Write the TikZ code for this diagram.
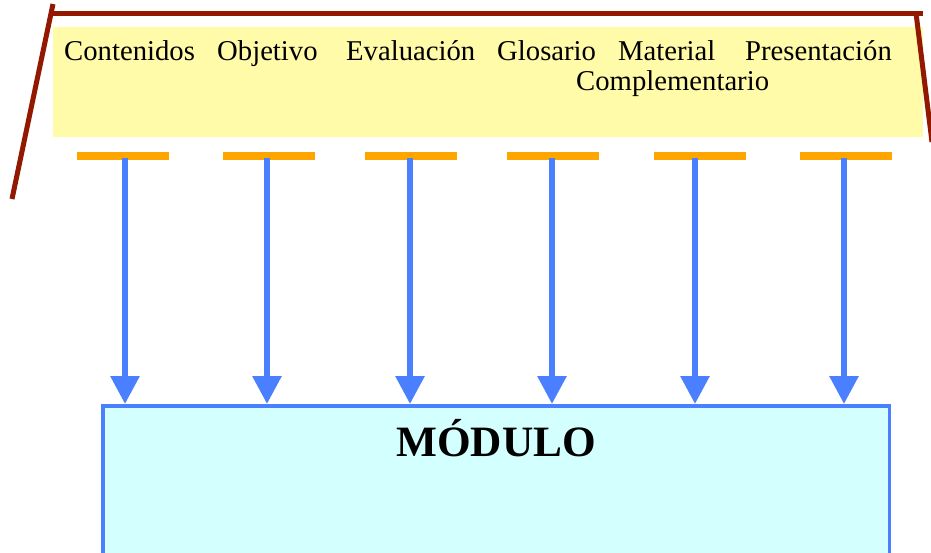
\documentclass[tikz,border=0pt]{standalone}
\usepackage{fontspec}
\setmainfont{Liberation Serif}
\usetikzlibrary{arrows.meta}
\definecolor{paneyellow}{HTML}{FFFBA8}
\definecolor{frame}{HTML}{921800}
\definecolor{barorange}{HTML}{FFA500}
\definecolor{arrowblue}{HTML}{4A80FF}
\definecolor{boxcyan}{HTML}{D4FFFF}
\tikzset{
  lbl/.style={anchor=base west, inner sep=0pt, font=\fontsize{28.7}{32}\selectfont},
  bar/.style={fill=barorange, draw=none, minimum width=92pt, minimum height=8pt, inner sep=0pt},
  flow/.style={draw=arrowblue, line width=6pt, -{Triangle[width=28pt,length=28pt]}, shorten >=0pt},
  edge/.style={draw=frame, line width=5pt}
}
\begin{document}
\begin{tikzpicture}[x=1pt,y=1pt]
\useasboundingbox (0,0) rectangle (931,-552);
\clip (0,0) rectangle (931,-552);
% yellow panel
\fill[paneyellow] (53,-27) rectangle (923,-137);
% frame
\coordinate (fl) at (12,-199);
\coordinate (ftl) at (53,-4);
\coordinate (ft) at (53,-13);
\coordinate (ftr) at (923,-13);
\coordinate (frt) at (916,-13);
\coordinate (fr) at (932,-142);
\draw[edge] (fl) -- (ftl);
\draw[edge] (ft) -- (ftr);
\draw[edge] (frt) -- (fr);
% labels
\node[lbl] (t1) at (64,-60) {Contenidos};
\node[lbl] (t2) at (217,-60) {Objetivo};
\node[lbl] (t3) at (346,-60) {Evaluación};
\node[lbl] (t4) at (497,-60) {Glosario};
\node[lbl] (t5) at (618,-60) {Material};
\node[lbl] (t6) at (745,-60) {Presentación};
\node[lbl] (t7) at (576,-90) {Complementario};
% module box
\node[draw=arrowblue, fill=boxcyan, line width=3.5pt, minimum width=786.5pt, minimum height=200pt, anchor=north west, inner sep=0pt] (box) at (101,-404) {};
\node[font=\bfseries\fontsize{43.3}{48}\selectfont, inner sep=0pt] (mod) at (496,-438) {MÓDULO};
% bars
\node[bar] (b1) at (123,-156) {};
\node[bar] (b2) at (269,-156) {};
\node[bar] (b3) at (411,-156) {};
\node[bar] (b4) at (553,-156) {};
\node[bar] (b5) at (700,-156) {};
\node[bar] (b6) at (846,-156) {};
% arrows
\coordinate (s1) at (125,-158);
\coordinate (s2) at (267,-158);
\coordinate (s3) at (410,-158);
\coordinate (s4) at (552,-158);
\coordinate (s5) at (695,-158);
\coordinate (s6) at (844,-158);
\foreach \i in {1,...,6} {
  \draw[flow] (s\i) -- (s\i |- box.north);
}
\end{tikzpicture}
\end{document}
